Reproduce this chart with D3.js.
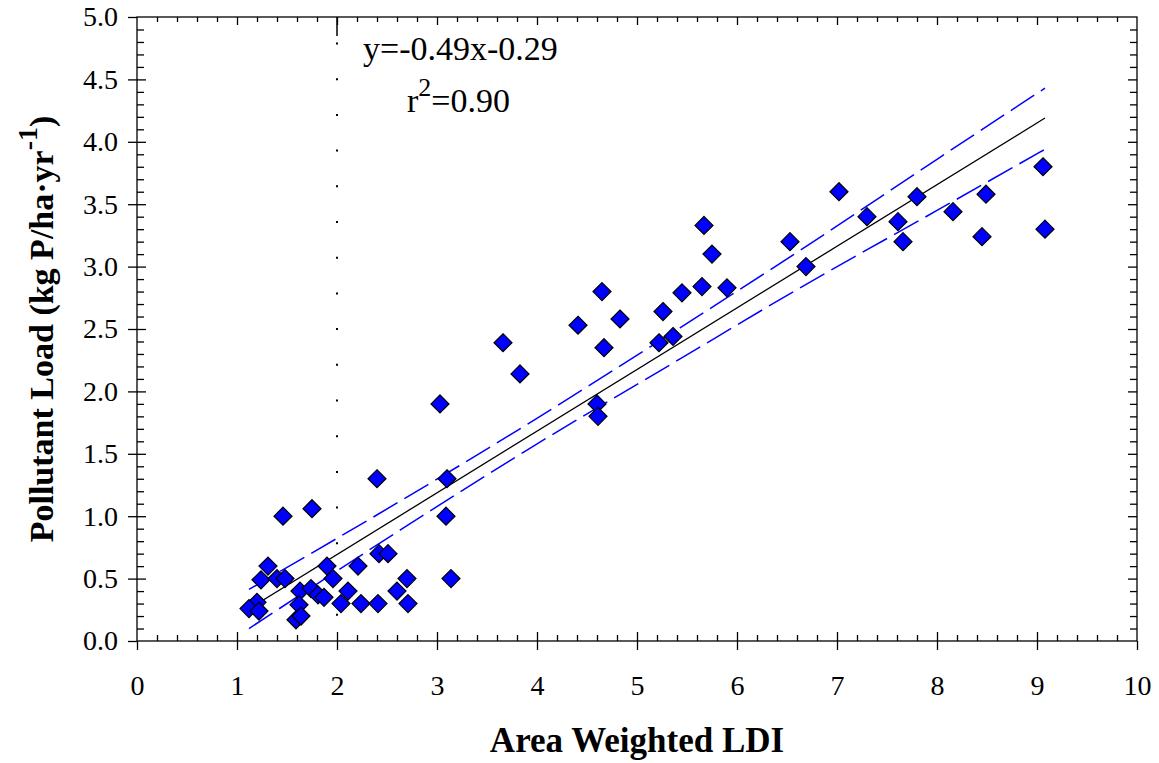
<!DOCTYPE html>
<html>
<head>
<meta charset="utf-8">
<script src="https://cdn.jsdelivr.net/npm/d3@7"></script>
<style>
  body { margin: 0; background: #fff; }
  svg { display: block; font-family: "Liberation Serif", "Times New Roman", serif; }
</style>
</head>
<body>
<div id="chart"></div>
<script>
// observed points (Area Weighted LDI, pollutant load)
const ldi = [1.46, 1.75, 2.40, 3.10, 3.09, 3.14, 1.31, 1.24, 1.40, 1.48, 1.20, 1.12, 1.22,
  1.63, 1.74, 1.81, 1.87, 1.62, 1.59, 1.64, 1.90, 1.96, 2.04, 2.11, 2.21, 2.24, 2.41, 2.42,
  2.51, 2.60, 2.70, 2.71, 3.03, 3.66, 3.83, 4.41, 4.83, 4.67, 4.60, 4.61, 5.22, 5.36, 4.65,
  5.26, 5.45, 5.65, 5.90, 5.75, 5.67, 6.53, 6.69, 7.02, 7.30, 7.61, 7.66, 7.80, 8.16, 8.49,
  8.45, 9.06, 9.08];
const load = [1.00, 1.06, 1.30, 1.30, 1.00, 0.50, 0.60, 0.49, 0.50, 0.50, 0.31, 0.26, 0.24,
  0.40, 0.42, 0.37, 0.35, 0.29, 0.17, 0.20, 0.60, 0.50, 0.30, 0.40, 0.60, 0.30, 0.30, 0.70,
  0.70, 0.40, 0.50, 0.30, 1.90, 2.39, 2.14, 2.53, 2.58, 2.35, 1.90, 1.80, 2.39, 2.44, 2.80,
  2.64, 2.79, 2.84, 2.83, 3.10, 3.33, 3.20, 3.00, 3.60, 3.40, 3.36, 3.20, 3.56, 3.44, 3.58,
  3.24, 3.80, 3.30];

// fitted line and its confidence band
const fitSlope = 0.494;
const fitIntercept = -0.295;
const fitRange = [1.12, 9.08];
const bandX = [1.12, 2.63, 3.9, 5.43, 6.63, 8.0, 9.08];
const bandUpper = [0.413, 1.12, 1.735, 2.51, 3.13, 3.86, 4.43];
const bandLower = [0.10, 0.888, 1.53, 2.26, 2.83, 3.45, 3.94];

const refLineX = 2;
const xTicks = [0, 1, 2, 3, 4, 5, 6, 7, 8, 9, 10];
const yTicks = [0, 0.5, 1.0, 1.5, 2.0, 2.5, 3.0, 3.5, 4.0, 4.5, 5.0];

const width = 1159, height = 763;
const margin = { top: 17, right: 22, bottom: 122, left: 137 };

const svg = d3.select("#chart").append("svg")
    .attr("width", width)
    .attr("height", height);

const x = d3.scaleLinear().domain([0, 10]).range([margin.left, width - margin.right]);
const y = d3.scaleLinear().domain([0, 5]).range([height - margin.bottom, margin.top]);

const xMinor = d3.range(0, 10.001, 0.2).filter(v => Math.abs(v - Math.round(v)) > 1e-6);
const yMinor = d3.range(0, 5.001, 0.1).filter(v => Math.abs(v * 2 - Math.round(v * 2)) > 1e-6);

const x0 = x.range()[0], x1 = x.range()[1];
const y0 = y.range()[0], y1 = y.range()[1];

function styleAxis(g) {
  g.selectAll(".domain").remove();
  g.selectAll("line").attr("stroke", "#000").attr("stroke-width", 1.3);
  g.selectAll("text").attr("fill", "#000").attr("font-size", 28)
    .attr("font-family", "Liberation Serif, Times New Roman, serif");
}

// bottom
svg.append("g").attr("transform", `translate(0,${y0})`)
    .call(d3.axisBottom(x).tickValues(xTicks).tickSize(9).tickPadding(25).tickFormat(d3.format("d")))
    .call(styleAxis);
svg.append("g").attr("transform", `translate(0,${y0})`)
    .call(d3.axisBottom(x).tickValues(xTicks.slice(1, -1)).tickSize(-9).tickFormat(""))
    .call(styleAxis);
svg.append("g").attr("transform", `translate(0,${y0})`)
    .call(d3.axisBottom(x).tickValues(xMinor).tickSize(-6).tickFormat(""))
    .call(styleAxis);
// top
svg.append("g").attr("transform", `translate(0,${y1})`)
    .call(d3.axisTop(x).tickValues(xTicks.slice(1, -1)).tickSize(-8).tickFormat(""))
    .call(styleAxis);
svg.append("g").attr("transform", `translate(0,${y1})`)
    .call(d3.axisTop(x).tickValues(xMinor).tickSize(-5).tickFormat(""))
    .call(styleAxis);
// left
svg.append("g").attr("transform", `translate(${x0},0)`)
    .call(d3.axisLeft(y).tickValues(yTicks).tickSize(9).tickPadding(10).tickFormat(d3.format(".1f")))
    .call(styleAxis);
svg.append("g").attr("transform", `translate(${x0},0)`)
    .call(d3.axisLeft(y).tickValues(yTicks.slice(1, -1)).tickSize(-9).tickFormat(""))
    .call(styleAxis);
svg.append("g").attr("transform", `translate(${x0},0)`)
    .call(d3.axisLeft(y).tickValues(yMinor).tickSize(-7).tickFormat(""))
    .call(styleAxis);
// right
svg.append("g").attr("transform", `translate(${x1},0)`)
    .call(d3.axisRight(y).tickValues(yTicks.slice(1, -1)).tickSize(-9).tickFormat(""))
    .call(styleAxis);
svg.append("g").attr("transform", `translate(${x1},0)`)
    .call(d3.axisRight(y).tickValues(yMinor).tickSize(-7).tickFormat(""))
    .call(styleAxis);

// frame
svg.append("rect")
    .attr("x", x0).attr("y", y1)
    .attr("width", x1 - x0).attr("height", y0 - y1)
    .attr("fill", "none").attr("stroke", "#000").attr("stroke-width", 1.3);

// dotted reference line at LDI = 2
svg.append("line")
    .attr("x1", x(refLineX)).attr("x2", x(refLineX))
    .attr("y1", y1).attr("y2", y1 + 19)
    .attr("stroke", "#000").attr("stroke-width", 1.5);
svg.append("line")
    .attr("x1", x(refLineX)).attr("x2", x(refLineX))
    .attr("y1", y1 + 25.5).attr("y2", y0)
    .attr("stroke", "#000").attr("stroke-width", 2)
    .attr("stroke-dasharray", "2,33.7");

// confidence band
const bandLine = d3.line().curve(d3.curveMonotoneX);
[bandUpper, bandLower].forEach(vals => {
  svg.append("path")
      .attr("d", bandLine(bandX.map((v, i) => [x(v), y(vals[i])])))
      .attr("fill", "none")
      .attr("stroke", "#0000ff")
      .attr("stroke-width", 1.5)
      .attr("stroke-dasharray", "28,8");
});

// regression line
svg.append("line")
    .attr("x1", x(fitRange[0])).attr("y1", y(fitSlope * fitRange[0] + fitIntercept))
    .attr("x2", x(fitRange[1])).attr("y2", y(fitSlope * fitRange[1] + fitIntercept))
    .attr("stroke", "#000").attr("stroke-width", 1.3);

// points
const half = 9;
svg.append("g")
  .selectAll("path")
  .data(ldi.map((v, i) => [v, load[i]]))
  .join("path")
    .attr("transform", d => `translate(${x(d[0])},${y(d[1])})`)
    .attr("d", `M0,${-half}L${half},0L0,${half}L${-half},0Z`)
    .attr("fill", "#0000ff")
    .attr("stroke", "#000")
    .attr("stroke-width", 1.2);

// equation
svg.append("text")
    .attr("x", 363).attr("y", 60)
    .attr("font-size", 34)
    .text("y=-0.49x-0.29");
const r2 = svg.append("text")
    .attr("x", 407).attr("y", 112)
    .attr("font-size", 34);
r2.append("tspan").text("r");
r2.append("tspan").attr("font-size", 26).attr("dy", -16).text("2");
r2.append("tspan").attr("dy", 16).text("=0.90");

// axis titles
svg.append("text")
    .attr("x", (x0 + x1) / 2).attr("y", 752)
    .attr("text-anchor", "middle")
    .attr("font-size", 35).attr("font-weight", "bold")
    .text("Area Weighted LDI");

const yt = svg.append("text")
    .attr("transform", `translate(53,${(y0 + y1) / 2}) rotate(-90)`)
    .attr("text-anchor", "middle")
    .attr("font-size", 34).attr("font-weight", "bold");
yt.append("tspan").text("Pollutant Load (kg P/ha·yr");
yt.append("tspan").attr("font-size", 28).attr("dy", -16).text("-1");
yt.append("tspan").attr("dy", 16).text(")");
</script>
</body>
</html>
